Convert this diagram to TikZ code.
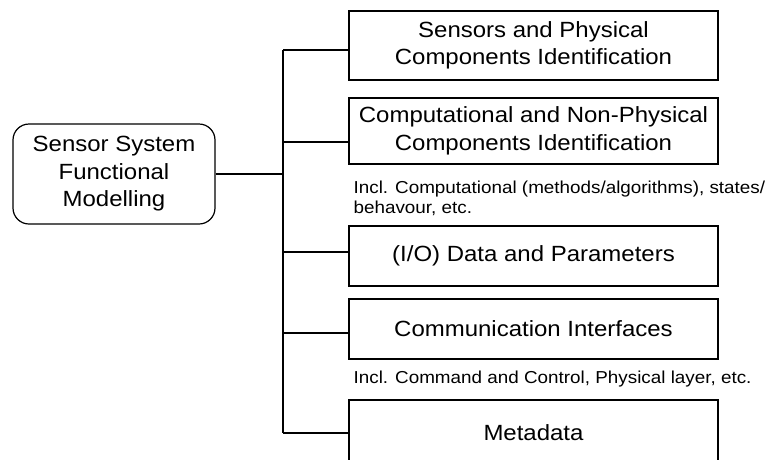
\documentclass[tikz,border=0pt]{standalone}
\usepackage{fontspec}
\setmainfont[FakeStretch=1.09]{Liberation Sans}
\usepackage{tikz}
\usetikzlibrary{positioning, calc}

\begin{document}
\begin{tikzpicture}[
    x=1pt, y=-1pt,
    line width=1.2pt,
    font=\fontsize{22}{27.5}\selectfont,
    mainbox/.style={draw, rounded corners=16pt, align=center, minimum width=202pt,
                    minimum height=100pt, inner sep=3pt},
    part/.style={draw, align=center, minimum width=369pt, inner sep=3pt},
    note/.style={align=left, inner sep=0pt, anchor=base west,
                 font=\fontsize{17.3}{20}\selectfont},
  ]
  \useasboundingbox (0,0) rectangle (766,459);

  % left root box
  \node[mainbox] (root) at (114,174) {Sensor System \\ Functional \\ Modelling};

  % right column of parts (x centre 533.5)
  \node[part, minimum height=69pt] (sens) at (533.5,45.5)  {Sensors and Physical \\ Components Identification};
  \node[part, minimum height=66pt] (comp) at (533.5,131)   {Computational and Non-Physical \\ Components Identification};
  \node[part, minimum height=60pt] (data) at (533.5,256)   {(I/O) Data and Parameters};
  \node[part, minimum height=60pt] (comm) at (533.5,329)   {Communication Interfaces};
  % last box runs off the bottom edge
  \node[part, minimum height=66pt] (meta) at (533.5,433)   {Metadata};

  % notes under the boxes (base = last line)
  \node[note] (compnote) at (353,213) {Incl. Computational (methods/algorithms), states/ \\ behavour, etc.};
  \node[note] (commnote) at (353,383) {Incl. Command and Control, Physical layer, etc.};

  % trunk joints
  \coordinate (j1) at (283,50);
  \coordinate (j2) at (283,142);
  \coordinate (j3) at (283,252);
  \coordinate (j4) at (283,333);
  \coordinate (j5) at (283,433);

  % tree lines
  \draw (j1) -- (j5);
  \draw (root.east) -- (root.east -| j1);
  \draw (j1) -- (j1 -| sens.west);
  \draw (j2) -- (j2 -| comp.west);
  \draw (j3) -- (j3 -| data.west);
  \draw (j4) -- (j4 -| comm.west);
  \draw (j5) -- (j5 -| meta.west);

\end{tikzpicture}
\end{document}
